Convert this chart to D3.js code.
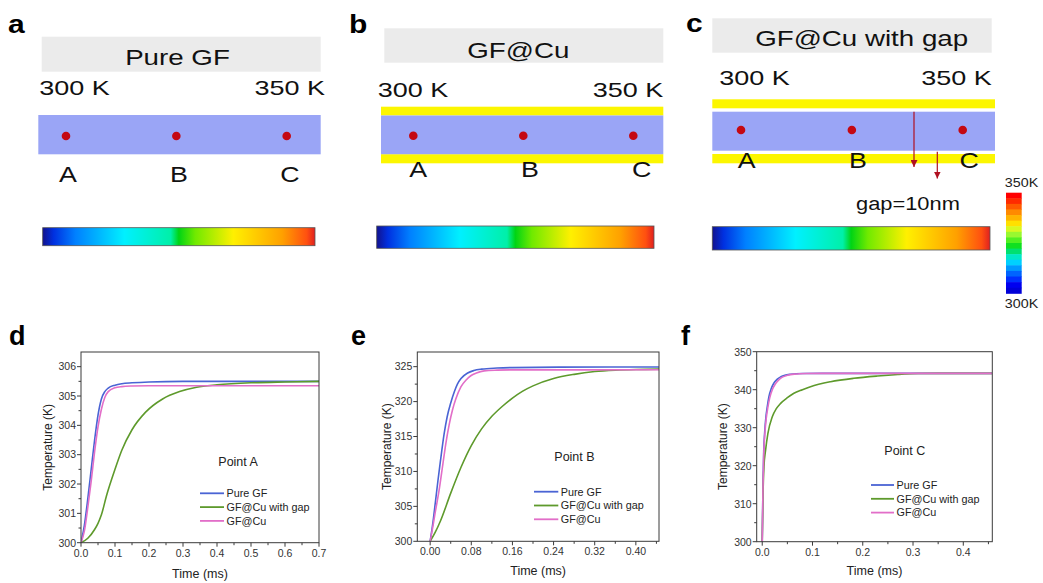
<!DOCTYPE html>
<meta charset="utf-8">
<style>
body { margin: 0; background: #fff; }
svg { display: block; font-family: "Liberation Sans", Arial, Helvetica, sans-serif; }
.frame { fill: none; stroke: #3a3a3a; stroke-width: 1; }
.tick { stroke: #3a3a3a; stroke-width: 1; }
.curve { fill: none; stroke-width: 1.6; }
</style>
<body>
<script src="https://cdn.jsdelivr.net/npm/d3@7"></script>
<script>

// ---- schematic data (a-c)
var points = ["A", "B", "C"];
var gradStops  = [0, 0.04, 0.12, 0.3, 0.47, 0.5, 0.56, 0.7, 0.88, 0.97, 1];
var gradColors = ["#12128e", "#0030e0", "#0080ff", "#00f0ff", "#00f0a8", "#00d414", "#70ea00", "#fff000", "#ffa000", "#ff5010", "#e02020"];
var barColors  = ["#ff0000", "#ff2a00", "#ff5a00", "#ff8a00", "#ffb400", "#ffe000", "#d8f820", "#98f830", "#50f020",
                  "#10e020", "#00e070", "#00e8c8", "#00d0ff", "#0098ff", "#0064ff", "#0030ff", "#0000f0", "#0000d8"];

// ---- transient curves (d-f), [time in ms, temperature in K]
var seriesNames  = ["Pure GF", "GF@Cu with gap", "GF@Cu"];
var seriesColors = ["#4a64d4", "#5e9a2c", "#e26ec8"];

var dPure = [[0,300],[0.01,300.6],[0.02,301.5],[0.03,302.5],[0.04,303.5],[0.05,304.35],[0.06,304.9],[0.07,305.15],[0.08,305.27],
             [0.1,305.37],[0.12,305.42],[0.15,305.45],[0.2,305.48],[0.3,305.5],[0.5,305.5],[0.7,305.5]];
var dGap  = [[0,300],[0.02,300.15],[0.04,300.45],[0.05,300.66],[0.06,300.95],[0.075,301.6],[0.1,302.5],[0.12,303.15],[0.15,303.85],
             [0.19,304.45],[0.24,304.9],[0.29,305.15],[0.34,305.3],[0.4,305.38],[0.5,305.45],[0.6,305.48],[0.7,305.5]];
var dCu   = [[0,300],[0.01,300.4],[0.02,301.2],[0.03,302.1],[0.04,303.1],[0.05,303.95],[0.06,304.55],[0.07,304.95],[0.08,305.15],
             [0.1,305.28],[0.12,305.32],[0.15,305.34],[0.2,305.35],[0.7,305.35]];

var ePure = [[0,300],[0.005,302.5],[0.01,305.5],[0.015,308.6],[0.02,311.5],[0.027,315.3],[0.033,317.8],[0.04,319.8],[0.047,321.4],
             [0.053,322.5],[0.06,323.3],[0.073,324.1],[0.085,324.45],[0.1,324.65],[0.13,324.8],[0.16,324.87],[0.25,324.93],[0.445,324.95]];
var eGap  = [[0,300],[0.01,301.3],[0.02,302.9],[0.04,306.9],[0.06,310.6],[0.08,313.7],[0.1,316.1],[0.12,317.9],[0.14,319.3],
             [0.16,320.5],[0.18,321.5],[0.2,322.25],[0.24,323.3],[0.28,323.9],[0.32,324.3],[0.36,324.5],[0.4,324.6],[0.445,324.65]];
var eCu   = [[0,300],[0.005,302],[0.01,304.2],[0.0175,307.35],[0.025,311.2],[0.0305,314],[0.037,316.7],[0.0434,318.8],[0.05,320.4],
             [0.06,322.15],[0.07,323.1],[0.079,323.7],[0.09,324.1],[0.105,324.4],[0.13,324.5],[0.16,324.54],[0.445,324.55]];

var fPure = [[0,300],[0.0015,315],[0.003,324],[0.005,329],[0.0074,332.9],[0.01,335.5],[0.0133,338.2],[0.018,340.3],[0.023,341.7],
             [0.03,342.8],[0.037,343.4],[0.045,343.8],[0.056,344.05],[0.08,344.25],[0.12,344.3],[0.457,344.3]];
var fGap  = [[0,300],[0.0015,312],[0.0034,319.7],[0.0067,324.1],[0.0113,328.5],[0.02,332.9],[0.028,335],[0.0366,336.4],[0.05,337.9],
             [0.063,339.05],[0.08,340],[0.096,340.8],[0.136,342.1],[0.182,343],[0.229,343.6],[0.27,344],[0.31,344.25],[0.35,344.3],[0.457,344.3]];
var fCu   = [[0,300],[0.0015,314],[0.003,323],[0.005,328],[0.008,332.5],[0.011,335.2],[0.015,337.9],[0.02,340],[0.026,341.5],
             [0.033,342.6],[0.04,343.3],[0.05,343.8],[0.065,344.1],[0.09,344.25],[0.12,344.3],[0.457,344.3]];

var svg = d3.select("body").append("svg")
    .attr("width", 1043)
    .attr("height", 583);

var defs = svg.append("defs");
var grad = defs.append("linearGradient").attr("id", "jet");
grad.selectAll("stop")
    .data(gradStops)
  .enter().append("stop")
    .attr("offset", function(d) { return d; })
    .attr("stop-color", function(d, i) { return gradColors[i]; });

defs.append("marker")
    .attr("id", "arr")
    .attr("viewBox", "0 0 10 10")
    .attr("refX", 10).attr("refY", 5)
    .attr("markerWidth", 7).attr("markerHeight", 7)
    .attr("markerUnits", "userSpaceOnUse")
    .attr("orient", "auto")
  .append("path")
    .attr("d", "M0,0L10,5L0,10Z")
    .attr("fill", "#b01020");

function label(sel, x, y, s, o) {
  o = o || {};
  var tr = "translate(" + x + "," + y + ")";
  if (o.sx) tr += " scale(" + o.sx + ",1)";
  if (o.rot) tr += " rotate(" + o.rot + ")";
  var t = sel.append("text")
      .attr("transform", tr)
      .attr("text-anchor", o.anchor || "start")
      .style("font-size", (o.size || 12) + "px")
      .style("fill", o.color || "#111")
      .text(s);
  if (o.bold) t.style("font-weight", "bold");
  return t;
}

function rect(sel, r, fill) {
  return sel.append("rect")
      .attr("x", r[0]).attr("y", r[1])
      .attr("width", r[2] - r[0]).attr("height", r[3] - r[1])
      .attr("fill", fill);
}

// ---- top row schematics
var schem = [
  {letter: "a", lx: 8, ly: 33, box: [41.7, 36.7, 320.7, 71.7], title: "Pure GF", tx: 177.5, ty: 65,
   tl: 39.3, tr: 325, tby: 95, cu: null, gf: [38.3, 115, 320.7, 154.3], dots: [66, 286.7], dy: 136,
   labs: [68, 290], laby: 181.7, cbar: [42.7, 227.7, 315, 245.7]},
  {letter: "b", lx: 349, ly: 33, box: [384.3, 28.3, 663.3, 62.7], title: "GF@Cu", tx: 518.3, ty: 57.7,
   tl: 377.7, tr: 663.3, tby: 96.7, cu: [[381, 106.7, 663.3, 115.5], [381, 154.2, 663.3, 163.3]],
   gf: [381, 115.5, 663.3, 154.2], dots: [413.3, 633.3], dy: 135.7,
   labs: [418.3, 641.7], laby: 176.7, cbar: [376.7, 226, 654, 248.3]},
  {letter: "c", lx: 686, ly: 31.7, box: [712.3, 18.3, 991.7, 52.7], title: "GF@Cu with gap", tx: 861.7, ty: 46,
   tl: 719.3, tr: 991.7, tby: 85, cu: [[712.3, 99.3, 995, 108.3], [712.3, 154, 995, 163.3]],
   gf: [712.3, 111.7, 995, 150.7], dots: [741, 962.7], dy: 130,
   labs: [746.7, 969.3], laby: 167.7, cbar: [712.3, 226.7, 990, 250]}
];

schem.forEach(function(p) {
  var g = svg.append("g");
  label(g, p.lx, p.ly, p.letter, {size: 25, bold: true, sx: 1.2, color: "#000"});
  rect(g, p.box, "#ebebeb");
  label(g, p.tx, p.ty, p.title, {size: 22, sx: 1.26, anchor: "middle"});
  label(g, p.tl, p.tby, "300 K", {size: 20, sx: 1.35});
  label(g, p.tr, p.tby, "350 K", {size: 20, sx: 1.35, anchor: "end"});
  if (p.cu) p.cu.forEach(function(c) { rect(g, c, "#fcf600"); });
  rect(g, p.gf, "#9aa5f6");

  var xd = d3.scalePoint().domain(points).range(p.dots);
  var xl = d3.scalePoint().domain(points).range(p.labs);
  g.selectAll(".dot")
      .data(points)
    .enter().append("circle")
      .attr("cx", function(d) { return xd(d); })
      .attr("cy", p.dy)
      .attr("r", 4.3)
      .attr("fill", "#c40812");
  points.forEach(function(d) {
    label(g, xl(d), p.laby, d, {size: 22, sx: 1.22, anchor: "middle"});
  });

  rect(g, p.cbar, "url(#jet)")
      .attr("stroke", "#555")
      .attr("stroke-width", 0.8);
});

// gap arrows and scale bar in c
var gc = svg.append("g");
gc.append("line").attr("x1", 914).attr("y1", 111.7).attr("x2", 914).attr("y2", 167)
    .attr("stroke", "#b01020").attr("stroke-width", 1.2).attr("marker-end", "url(#arr)");
gc.append("line").attr("x1", 937.3).attr("y1", 151.7).attr("x2", 937.3).attr("y2", 178.5)
    .attr("stroke", "#b01020").attr("stroke-width", 1.2).attr("marker-end", "url(#arr)");
label(gc, 856, 210, "gap=10nm", {size: 19, sx: 1.15});

var vb = d3.scaleBand().domain(d3.range(barColors.length)).range([192.7, 293.3]);
gc.selectAll(".band")
    .data(barColors)
  .enter().append("rect")
    .attr("x", 1006)
    .attr("width", 15.7)
    .attr("y", function(d, i) { return vb(i); })
    .attr("height", vb.bandwidth() + 0.5)
    .attr("fill", function(d) { return d; });
label(gc, 1021.5, 186.7, "350K", {size: 13, sx: 1.1, anchor: "middle", color: "#222"});
label(gc, 1021.5, 308.3, "300K", {size: 13, sx: 1.1, anchor: "middle", color: "#222"});

// ---- bottom row plots
var plots = [
  {letter: "d", lx: 9, x: [0, 0.7], xr: [81, 319], y: [300, 306.5], yr: [542.7, 352],
   xt: d3.range(0, 0.71, 0.1), xs: 0.1, xf: ".1f", yt: d3.range(300, 306.1, 1), ys: 1,
   data: [dPure, dGap, dCu], pt: "Point A", ptx: 218.3, pty: 465.7, lg: [200, 224, 493.3], ylx: 48, xly: 578},
  {letter: "e", lx: 351, x: [-0.025, 0.445], xr: [417.3, 659], y: [300, 327.1], yr: [541.3, 352],
   xt: d3.range(0, 0.401, 0.08), xs: 0.08, xf: ".2f", yt: d3.range(300, 325.1, 5), ys: 5,
   data: [ePure, eGap, eCu], pt: "Point B", ptx: 554.3, pty: 461, lg: [534, 558.3, 491.7], ylx: 387, xly: 575},
  {letter: "f", lx: 681, x: [-0.011, 0.4577], xr: [756.7, 992.3], y: [300, 350], yr: [541.7, 351.7],
   xt: d3.range(0, 0.401, 0.1), xs: 0.1, xf: ".1f", yt: d3.range(300, 350.1, 10), ys: 10,
   data: [fPure, fGap, fCu], pt: "Point C", ptx: 884.3, pty: 455, lg: [871, 894, 485], ylx: 723, xly: 575}
];

plots.forEach(function(p) {
  var g = svg.append("g");
  var x = d3.scaleLinear().domain(p.x).range(p.xr);
  var y = d3.scaleLinear().domain(p.y).range(p.yr);
  var x0 = p.xr[0], x1 = p.xr[1], yb = p.yr[0], yt = p.yr[1];

  label(g, p.lx, 345, p.letter, {size: 27, bold: true, color: "#000"});

  var clipId = "clip" + p.letter;
  g.append("clipPath").attr("id", clipId)
    .append("rect").attr("x", x0).attr("y", yt).attr("width", x1 - x0).attr("height", yb - yt);

  var line = d3.line()
      .x(function(d) { return x(d[0]); })
      .y(function(d) { return y(d[1]); })
      .curve(d3.curveMonotoneX);

  g.append("g").attr("clip-path", "url(#" + clipId + ")")
    .selectAll("path")
      .data(p.data)
    .enter().append("path")
      .attr("class", "curve")
      .attr("d", line)
      .attr("stroke", function(d, i) { return seriesColors[i]; });

  g.append("rect").attr("class", "frame")
      .attr("x", x0).attr("y", yt).attr("width", x1 - x0).attr("height", yb - yt);

  // x ticks
  var xMinor = p.xt.map(function(v) { return v + p.xs / 2; })
      .filter(function(v) { return v <= p.x[1]; });
  p.xt.forEach(function(v) {
    g.append("line").attr("class", "tick").attr("x1", x(v)).attr("x2", x(v)).attr("y1", yb).attr("y2", yb + 4);
    label(g, x(v), yb + 14, d3.format(p.xf)(v), {size: 10.5, anchor: "middle", color: "#333"});
  });
  xMinor.forEach(function(v) {
    g.append("line").attr("class", "tick").attr("x1", x(v)).attr("x2", x(v)).attr("y1", yb).attr("y2", yb + 2.5);
  });

  // y ticks
  var yMinor = p.yt.map(function(v) { return v + p.ys / 2; })
      .filter(function(v) { return v < p.y[1]; });
  p.yt.forEach(function(v) {
    g.append("line").attr("class", "tick").attr("x1", x0 - 4).attr("x2", x0).attr("y1", y(v)).attr("y2", y(v));
    label(g, x0 - 5, y(v) + 3.8, v, {size: 10.5, anchor: "end", color: "#333"});
  });
  yMinor.forEach(function(v) {
    g.append("line").attr("class", "tick").attr("x1", x0 - 2.5).attr("x2", x0).attr("y1", y(v)).attr("y2", y(v));
  });

  label(g, (x0 + x1) / 2, p.xly, "Time (ms)", {size: 12.5, anchor: "middle", color: "#222"});
  label(g, p.ylx + 4, (yb + yt) / 2, "Temperature (K)", {size: 12, anchor: "middle", rot: -90, color: "#222"});

  label(g, p.ptx, p.pty, p.pt, {size: 12.5, color: "#222"});

  seriesNames.forEach(function(name, i) {
    var ly = p.lg[2] + i * 13.8;
    g.append("line")
        .attr("x1", p.lg[0]).attr("x2", p.lg[1])
        .attr("y1", ly).attr("y2", ly)
        .attr("stroke", seriesColors[i]).attr("stroke-width", 1.8);
    label(g, p.lg[1] + 2.5, ly + 3.8, name, {size: 10.8, color: "#222"});
  });
});

</script>
</body>
